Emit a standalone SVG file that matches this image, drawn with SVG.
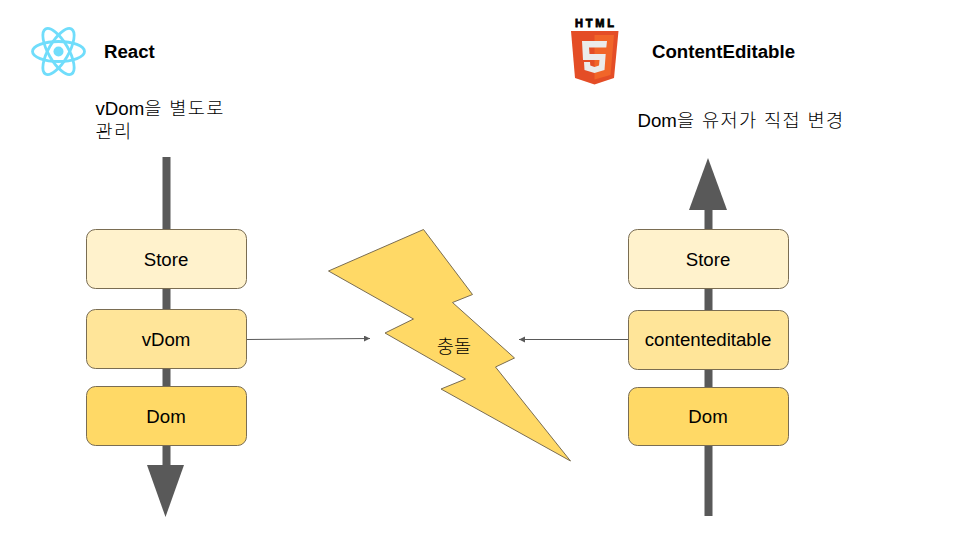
<svg xmlns="http://www.w3.org/2000/svg" width="960" height="540" viewBox="0 0 960 540">
<style>
text{font-family:"Liberation Sans","Noto Sans CJK KR",sans-serif;fill:#000}
.t{font-size:18.67px;text-anchor:middle}
.h{font-size:18.67px;font-weight:700}
.n{font-size:18.67px}
.k{font-weight:300;letter-spacing:1.350px}
.b{stroke:#7a6d52;stroke-width:1}
.thick{stroke:#595959;stroke-width:8;fill:none}
.thin{stroke:#595959;stroke-width:1;fill:none}
.ah{fill:#595959}
</style>
<defs><marker id="m" markerWidth="8" markerHeight="7" refX="6" refY="3" orient="auto" markerUnits="userSpaceOnUse"><path d="M0,0L6,3L0,6z" fill="#595959"/></marker></defs>
<g id="connectors">
<path class="thick" d="M166.500 157V470"/>
<path class="ah" d="M147 465H184L165.500 517z"/>
<path class="thick" d="M708.500 516V205"/>
<path class="ah" d="M689 210H727L708 158z"/>
<path class="thin" d="M247 339.500L370 338.500" marker-end="url(#m)"/>
<path class="thin" d="M628 339.500H519" marker-end="url(#m)"/>
</g>
<g id="logo-react" fill="none" stroke="#61dafb" stroke-width="2.800" opacity=".9">
<ellipse cx="58.500" cy="51.500" rx="26" ry="10"/>
<ellipse cx="58.500" cy="51.500" rx="26" ry="10" transform="rotate(60 58.500 51.500)"/>
<ellipse cx="58.500" cy="51.500" rx="26" ry="10" transform="rotate(120 58.500 51.500)"/>
<circle cx="58.500" cy="51.500" r="5" fill="#61dafb" stroke="none"/>
</g>
<g id="title-react"><text class="h" x="104" y="57.500">React</text></g>
<g id="note-react"><text class="n" x="95.500" y="115">vDom<tspan class="k">을 별도로</tspan></text><text class="n k" x="95.500" y="138">관리</text></g>
<g id="logo-html5">
<text x="575" y="26.500" font-size="11" font-weight="700" textLength="39" lengthAdjust="spacing" stroke="#000" stroke-width=".8">HTML</text>
<path d="M571 31H618.500L614 78L594.500 84.500L575 78z" fill="#e44d26"/>
<path d="M594.500 35V79.500L610.500 75L614 35z" fill="#f16529"/>
<path d="M582 41H607L606.300 47.500H589L589.500 54H605.700L604.500 70L594.500 73L584.500 70L584 62H590L590.300 65.500L594.500 67L599 65.500L599.500 60H583z" fill="#ebebeb"/>
</g>
<g id="title-html"><text class="h" x="652" y="57.500">ContentEditable</text></g>
<g id="note-html"><text class="n" x="637.500" y="126.500">Dom<tspan class="k">을 유저가 직접 변경</tspan></text></g>
<g id="left-store"><rect class="b" x="86.500" y="229.500" width="160" height="59" rx="9" fill="#fff2cc"/><text class="t" x="166" y="265.500">Store</text></g>
<g id="left-vdom"><rect class="b" x="86.500" y="309.500" width="160" height="59" rx="9" fill="#ffe599"/><text class="t" x="166" y="345.500">vDom</text></g>
<g id="left-dom"><rect class="b" x="86.500" y="386.500" width="160" height="59" rx="9" fill="#ffd966"/><text class="t" x="166" y="423">Dom</text></g>
<g id="right-store"><rect class="b" x="628.500" y="229.500" width="160" height="59" rx="9" fill="#fff2cc"/><text class="t" x="708" y="265.500">Store</text></g>
<g id="right-ce"><rect class="b" x="628.500" y="310.500" width="160" height="59" rx="9" fill="#ffe599"/><text class="t" x="708" y="346">contenteditable</text></g>
<g id="right-dom"><rect class="b" x="628.500" y="387.500" width="160" height="58" rx="9" fill="#ffd966"/><text class="t" x="708" y="423">Dom</text></g>
<g id="collision"><path class="b" d="M328.500 271L423.500 229.500L472.500 294.500L452.500 302.500L514.500 358L495.500 367L570.500 461L441 389L465.500 379L385 333L413.500 319z" fill="#ffd966"/><text class="t" x="454" y="352.500" font-weight="300">충돌</text></g>
</svg>
